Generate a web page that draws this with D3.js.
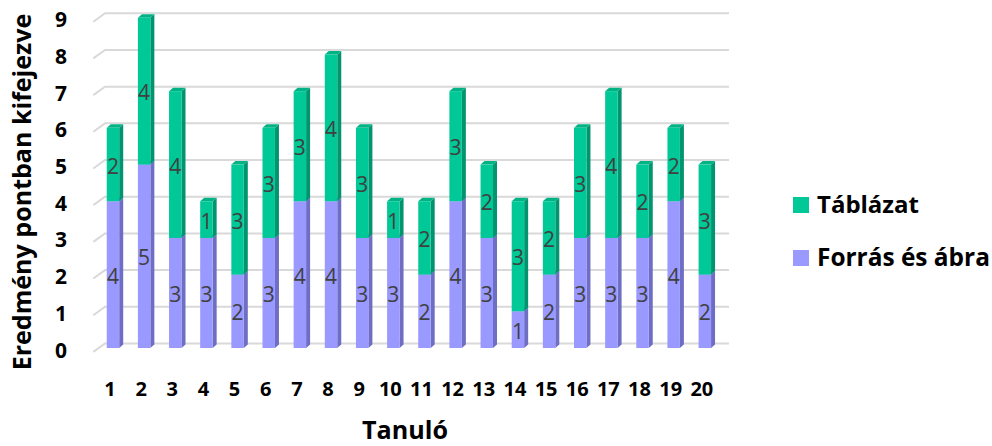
<!DOCTYPE html>
<html><head><meta charset="utf-8">
<script src="https://cdn.jsdelivr.net/npm/d3@7"></script>
<style>body{margin:0;background:#fff}svg{display:block}</style>
</head><body>
<svg id="c" width="992" height="446"></svg>
<script>
const students = ["1","2","3","4","5","6","7","8","9","10","11","12","13","14","15","16","17","18","19","20"];
const forras = [4,5,3,3,2,3,4,4,3,3,2,4,3,1,2,3,3,3,4,2];
const tablazat = [2,4,4,1,3,3,3,4,3,1,2,3,2,3,2,3,4,2,2,3];
const yTicks = [0,1,2,3,4,5,6,7,8,9];
const seriesNames = ["Forrás és ábra","Táblázat"];
const colors = {
  "Forrás és ábra": {front:"#9999FF", side:"#6E6EC4", top:"#8686EA"},
  "Táblázat": {front:"#00C896", side:"#00946F", top:"#00B385"}
};
const font = "'Open Sans','Noto Sans','DejaVu Sans',sans-serif";
const svg = d3.select("#c");

const yBack = d3.scaleLinear().domain([0,9]).range([343.5,13.3]);
const FO = 4.5;
const yF = v => yBack(v) + FO;
const x = d3.scaleBand().domain(students).range([97.4,720.4]).paddingInner(0.6).paddingOuter(0.3);
const DX = 4, DY = 3.5;

const grid = svg.append("g");
yTicks.forEach(t => {
  const yb = yBack(t);
  grid.append("path")
    .attr("d", `M93.3,${yb+8.4}L105,${yb}L729,${yb}`)
    .attr("fill","none").attr("stroke","#D9D9D9").attr("stroke-width",2);
});

svg.append("g").selectAll("text").data(yTicks).join("text")
  .attr("x",67).attr("y",d=>yBack(d)+6).attr("text-anchor","end")
  .attr("dominant-baseline","central")
  .attr("font-family",font).attr("font-weight","bold").attr("font-size",21).attr("fill","#000")
  .text(d=>d);

const rows = students.map((s,i)=>({s, "Forrás és ábra":forras[i], "Táblázat":tablazat[i]}));
const stack = d3.stack().keys(seriesNames)(rows);

const bars = svg.append("g");
stack.forEach(layer => {
  const c = colors[layer.key];
  layer.forEach(seg => {
    const s = seg.data.s;
    const x0 = x(s), w = x.bandwidth();
    const yt = yF(seg[1]), yb = yF(seg[0]);
    const g = bars.append("g");
    g.append("path").attr("d",`M${x0+w},${yt}L${x0+w+DX},${yt-DY}L${x0+w+DX},${yb-DY}L${x0+w},${yb}Z`).attr("fill",c.side);
    g.append("path").attr("d",`M${x0},${yt}L${x0+DX},${yt-DY}L${x0+w+DX},${yt-DY}L${x0+w},${yt}Z`).attr("fill",c.top);
    g.append("rect").attr("x",x0).attr("y",yt).attr("width",w).attr("height",yb-yt).attr("fill",c.front);
  });
});
stack.forEach(layer => {
  layer.forEach(seg => {
    const v = seg[1]-seg[0];
    svg.append("text")
      .attr("x", x(seg.data.s)+x.bandwidth()/2)
      .attr("y", (yF(seg[0])+yF(seg[1]))/2+1)
      .attr("text-anchor","middle").attr("dominant-baseline","central")
      .attr("font-family",font).attr("font-size",21).attr("fill","#404040")
      .text(v);
  });
});

svg.append("g").selectAll("text").data(students).join("text")
  .attr("x",d=>x(d)+x.bandwidth()/2-3).attr("y",388).attr("text-anchor","middle")
  .attr("dominant-baseline","central")
  .attr("font-family",font).attr("font-weight","bold").attr("font-size",20).attr("fill","#000")
  .text(d=>d);

function fitText(sel, target){
  const n = sel.node(); let fs = +sel.attr("font-size");
  const len = n.getComputedTextLength();
  sel.attr("font-size", fs*target/len);
}
const xt = svg.append("text").attr("x",405).attr("y",439).attr("text-anchor","middle")
  .attr("font-family",font).attr("font-weight","bold").attr("font-size",24).attr("fill","#000").text("Tanuló");
fitText(xt, 86);
const yt = svg.append("text").attr("transform","translate(31,192) rotate(-90)").attr("text-anchor","middle")
  .attr("font-family",font).attr("font-weight","bold").attr("font-size",24).attr("fill","#000").text("Eredmény pontban kifejezve");
fitText(yt, 357);

const legendItems = [
  {name:"Táblázat", y:197},
  {name:"Forrás és ábra", y:250}
];
legendItems.forEach(it=>{
  svg.append("rect").attr("x",793).attr("y",it.y).attr("width",16).attr("height",16).attr("fill",colors[it.name].front);
  const t = svg.append("text").attr("x",817).attr("y",it.y+16).attr("font-family",font)
    .attr("font-weight","bold").attr("font-size",22).attr("fill","#000").text(it.name);
  fitText(t, it.name==="Táblázat"?102:173);
});
</script>
</body></html>
